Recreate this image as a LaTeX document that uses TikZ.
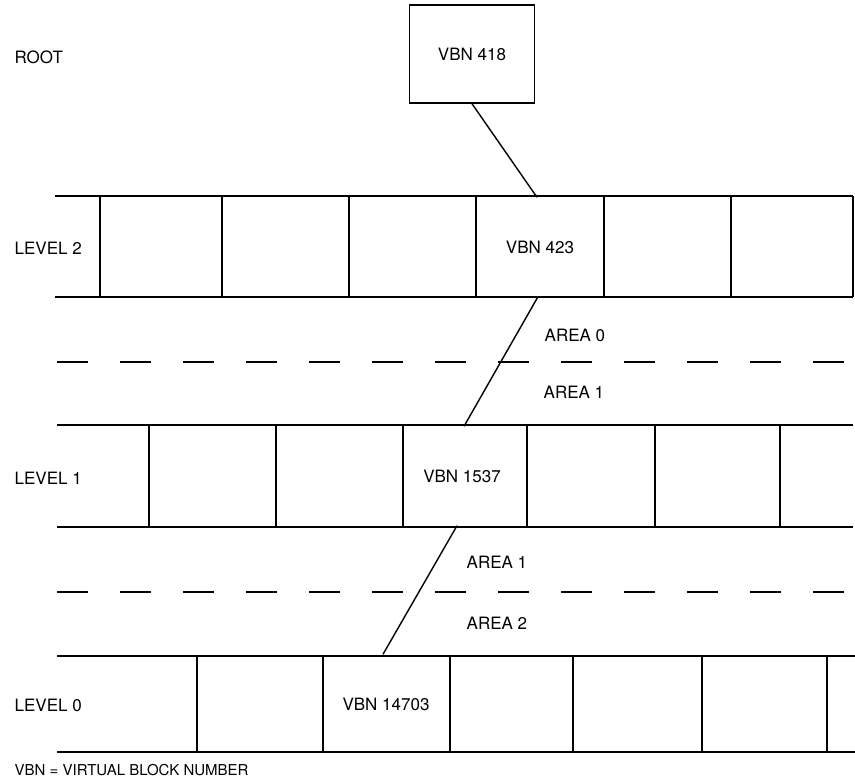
\documentclass[tikz,border=0pt]{standalone}
\usepackage{fontspec}
\setmainfont{TeX Gyre Heros}
\usepackage{tikz}

\begin{document}
\begin{tikzpicture}[x=1pt, y=-1pt, line width=1.4pt,
  every node/.style={font=\fontsize{17}{20}\selectfont, inner sep=0pt},
  cell/.style={minimum width=124pt, minimum height=98pt},
  lbl/.style={anchor=west},
  arealine/.style={dash pattern=on 31pt off 32pt}]
\useasboundingbox (0,0) rectangle (855,780);

% root block
\node[draw, minimum width=125pt, minimum height=98pt] (root) at (472,54) {VBN 418};
\node[lbl] (rootlbl) at (14,57) {ROOT};

% level 2
\draw (55,196) -- (853,196);
\draw (55,297) -- (853,297);
\foreach \x in {100,222,349,476,604,731,853} \draw (\x,196) -- (\x,297);
\node[cell] (v423) at (540,247) {VBN 423};
\node[lbl] (lev2) at (14,248) {LEVEL 2};

\draw[arealine] (57,362) -- (844,362);
\node[lbl] (area0) at (544,335) {AREA 0};
\node[lbl] (area1a) at (543,392) {AREA 1};

% level 1
\draw (57,425) -- (853,425);
\draw (57,527) -- (853,527);
\foreach \x in {149,276,403,527,655,780} \draw (\x,425) -- (\x,527);
\node[cell] (v1537) at (462,476) {VBN 1537};
\node[lbl] (lev1) at (14,478) {LEVEL 1};

\draw[arealine] (57,592) -- (844,592);
\node[lbl] (area1b) at (466,562) {AREA 1};
\node[lbl] (area2) at (466,623) {AREA 2};

% level 0
\draw (57,656) -- (855,656);
\draw (57,752) -- (855,752);
\foreach \x in {197,323,450,573,702,827} \draw (\x,656) -- (\x,752);
\node[cell] (v14703) at (386,704) {VBN 14703};
\node[lbl] (lev0) at (14,705) {LEVEL 0};

\node[lbl, font=\fontsize{15}{18}\selectfont] (note) at (14,770) {VBN = VIRTUAL BLOCK NUMBER};

\draw (root.south) -- ([xshift=-3pt]v423.north);
\draw ([xshift=-2pt]v423.south) -- ([xshift=2pt]v1537.north);
\draw ([xshift=-5pt]v1537.south) -- ([xshift=-3pt]v14703.north);
\end{tikzpicture}
\end{document}
